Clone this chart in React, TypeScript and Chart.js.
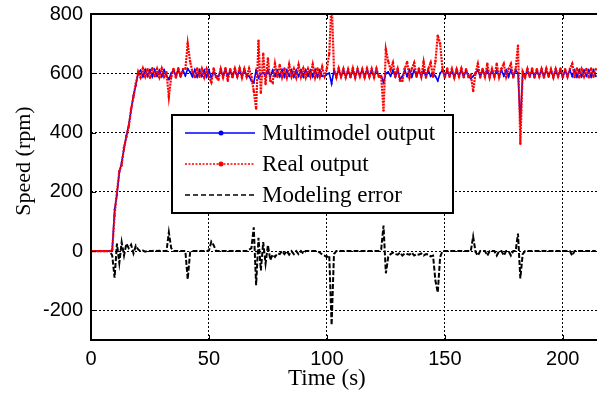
import React, { useEffect, useRef } from "react";
import { Chart, registerables } from "chart.js";

Chart.register(...registerables);

// Sampling step of the recorded signals (seconds)
const T_STEP = 1;

const X_TICKS = [0, 50, 100, 150, 200];
const Y_TICKS = [-200, 0, 200, 400, 600, 800];
const X_MIN = 0;
const X_MAX = 214.5;
const Y_MIN = -300;
const Y_MAX = 800;

const SERIES_NAMES = ["Multimodel output", "Real output", "Modeling error"];
const X_TITLE = "Time (s)";
const Y_TITLE = "Speed (rpm)";

// Real output (rpm), t = 0..214 s
const REAL_OUTPUT = [
  0, 0, 0, 0, 0, 0, 0, 0, 0, 5,
  120, 200, 270, 290, 350, 385, 420, 480, 520, 565,
  605, 586, 616, 589, 614, 585, 617, 590, 615, 587,
  616, 588, 604, 520, 588, 615, 586, 617, 589, 614,
  615, 700, 640, 605, 587, 616, 588, 615, 586, 614,
  588, 570, 616, 587, 578, 615, 586, 617, 575, 614,
  587, 616, 589, 617, 585, 615, 588, 616, 587, 540,
  481, 710, 534, 666, 564, 650, 575, 568, 632, 588,
  628, 587, 616, 586, 630, 589, 615, 586, 628, 588,
  616, 586, 615, 589, 630, 586, 616, 588, 622, 590,
  616, 665, 850, 614, 586, 617, 588, 615, 586, 614,
  587, 617, 585, 615, 589, 614, 586, 616, 588, 615,
  586, 616, 589, 590, 474, 680, 640, 612, 636, 588,
  615, 575, 575, 616, 638, 586, 615, 635, 588, 616,
  588, 638, 586, 615, 636, 588, 640, 727, 700, 614,
  586, 616, 588, 615, 585, 614, 589, 616, 587, 614,
  588, 595, 540, 600, 632, 586, 615, 588, 632, 586,
  615, 588, 632, 587, 616, 632, 588, 615, 632, 586,
  614, 693, 362, 605, 586, 615, 588, 616, 586, 614,
  589, 615, 586, 616, 588, 614, 586, 615, 589, 616,
  586, 614, 588, 615, 632, 587, 616, 586, 614, 589,
  615, 586, 616, 588, 614,
];

// Multimodel output (rpm), t = 0..214 s
const MODEL_OUTPUT = [
  0, 0, 0, 0, 0, 0, 0, 0, 0, 3,
  140, 190, 265, 300, 345, 390, 425, 475, 525, 560,
  600, 610, 589, 612, 590, 611, 588, 612, 591, 610,
  589, 611, 592, 580, 600, 611, 589, 612, 590, 610,
  592, 615, 604, 589, 612, 588, 611, 590, 610, 588,
  611, 585, 604, 590, 590, 611, 589, 612, 588, 610,
  590, 611, 588, 612, 590, 610, 592, 590, 575, 568,
  610, 585, 598, 602, 590, 611, 588, 610, 590, 609,
  589, 611, 588, 610, 591, 611, 588, 610, 590, 611,
  588, 611, 591, 610, 589, 612, 588, 610, 590, 590,
  598, 600, 565, 610, 589, 611, 588, 610, 590, 609,
  589, 611, 588, 610, 591, 610, 588, 612, 590, 609,
  589, 611, 591, 592, 569, 600, 604, 591, 610, 588,
  611, 580, 590, 610, 590, 611, 588, 610, 591, 610,
  589, 611, 588, 610, 590, 600, 590, 575, 600, 610,
  589, 611, 591, 610, 588, 610, 590, 611, 589, 610,
  591, 582, 590, 600, 611, 589, 610, 591, 610, 588,
  611, 590, 610, 589, 611, 591, 610, 588, 611, 590,
  610, 600, 430, 600, 589, 611, 590, 610, 588, 610,
  590, 611, 588, 610, 591, 610, 589, 611, 590, 610,
  588, 611, 591, 610, 590, 610, 588, 611, 589, 610,
  591, 610, 588, 611, 590,
];

// Modeling error (rpm), t = 0..214 s
const MODEL_ERROR = [
  0, 0, 0, 0, 0, 0, 0, 0, 0, -15,
  -90, 25, -40, 30, -15, 25, 10, 22, -8, 18,
  5, 0, 2, -2, 1, 0, 0, 2, 0, 1,
  0, 0, 0, 63, 10, 0, 0, 0, 0, 0,
  0, -95, -5, 0, 0, 0, 0, 0, 0, 0,
  2, 32, 20, 0, 0, 0, 0, 0, 0, 0,
  0, 0, 0, 0, 0, 0, 0, 5, 10, 80,
  -115, 45, -65, 30, -42, 20, -30, -12, -20, -8,
  -10, 0, -10, 0, -12, 0, -10, 0, -10, 0,
  -8, 0, 0, 0, 0, 0, 0, -5, -12, -15,
  -20, -15, -250, -10, 0, 0, 0, 0, 0, 0,
  0, 0, 0, 0, 0, 0, 0, 0, 0, 0,
  0, 0, 0, 5, 86, -75, -20, -10, -5, -10,
  -12, -5, -15, -8, -10, -12, -5, -15, -10, -12,
  -8, -15, -10, -12, -18, -15, -100, -140, -20, 0,
  0, 0, 0, 0, 0, 0, 0, 0, 0, 0,
  0, 0, 49, -3, -15, 0, 0, 0, -15, 0,
  0, 0, -15, 0, 0, -15, 0, 0, -15, 0,
  0, 59, -92, -10, 0, 0, 0, 0, 0, 0,
  0, 0, 0, 0, 0, 0, 0, 0, 0, 0,
  0, 0, 0, 0, -15, 0, 0, 0, 0, 0,
  0, 0, 0, 0, 0,
];

const COLORS = ["#0000ff", "#ff0000", "#000000"];
const TICK_FONT = "Liberation Sans, Arial, sans-serif";
const SERIF_FONT = "Liberation Serif, 'Times New Roman', serif";

const toPoints = (arr: number[]) => arr.map((y, i) => ({ x: i * T_STEP, y }));

const framePlugin = {
  id: "frameAndLegend",
  afterDraw(chart: any) {
    const { ctx, chartArea } = chart;
    const { left, right, top, bottom } = chartArea;
    const xs = chart.scales.x;
    const ys = chart.scales.y;
    ctx.save();
    // frame
    ctx.strokeStyle = "#000";
    ctx.lineWidth = 2;
    ctx.setLineDash([]);
    ctx.beginPath();
    ctx.moveTo(right + 2, top);
    ctx.lineTo(left, top);
    ctx.lineTo(left, bottom);
    ctx.lineTo(right + 2, bottom);
    ctx.stroke();
    // inward tick marks
    ctx.lineWidth = 1;
    ctx.beginPath();
    X_TICKS.forEach((v) => {
      const px = Math.round(xs.getPixelForValue(v)) + 0.5;
      ctx.moveTo(px, bottom);
      ctx.lineTo(px, bottom - 5);
      ctx.moveTo(px, top);
      ctx.lineTo(px, top + 5);
    });
    Y_TICKS.forEach((v) => {
      const py = Math.round(ys.getPixelForValue(v)) + 0.5;
      ctx.moveTo(left, py);
      ctx.lineTo(left + 5, py);
    });
    ctx.stroke();

    // axis titles
    ctx.fillStyle = "#000";
    ctx.font = `23px ${SERIF_FONT}`;
    ctx.textAlign = "center";
    ctx.textBaseline = "alphabetic";
    ctx.fillText(X_TITLE, xs.getPixelForValue(100), 385);
    ctx.save();
    ctx.translate(30, 161);
    ctx.rotate(-Math.PI / 2);
    ctx.font = `22px ${SERIF_FONT}`;
    ctx.fillText(Y_TITLE, 0, 0);
    ctx.restore();

    // legend
    const bx = 172, by = 115, bw = 281, bh = 98;
    ctx.fillStyle = "#fff";
    ctx.fillRect(bx, by, bw, bh);
    ctx.strokeStyle = "#000";
    ctx.lineWidth = 2;
    ctx.strokeRect(bx, by, bw, bh);
    const rows = [133, 164, 195];
    const dashes = [[], [2, 1.5], [5, 3]];
    const markers = [true, true, false];
    rows.forEach((ry, i) => {
      ctx.strokeStyle = COLORS[i];
      ctx.lineWidth = 1.5;
      ctx.setLineDash(dashes[i]);
      ctx.beginPath();
      ctx.moveTo(185, ry);
      ctx.lineTo(255, ry);
      ctx.stroke();
      ctx.setLineDash([]);
      if (markers[i]) {
        ctx.fillStyle = COLORS[i];
        ctx.beginPath();
        ctx.arc(221, ry, 2.5, 0, Math.PI * 2);
        ctx.fill();
      }
      ctx.fillStyle = "#000";
      ctx.font = `23px ${SERIF_FONT}`;
      ctx.textAlign = "left";
      ctx.textBaseline = "middle";
      ctx.fillText(SERIES_NAMES[i], 262, ry + 1);
    });
    ctx.restore();
  },
};

export default function App() {
  const canvasRef = useRef<HTMLCanvasElement | null>(null);

  useEffect(() => {
    const canvas = canvasRef.current;
    if (!canvas) return;
    const chart = new Chart(canvas, {
      type: "line",
      data: {
        datasets: [
          {
            label: SERIES_NAMES[1],
            data: toPoints(REAL_OUTPUT),
            borderColor: COLORS[1],
            backgroundColor: COLORS[1],
            borderWidth: 2.2,
            borderDash: [2, 1],
            pointRadius: 1.2,
            pointBorderWidth: 0,
            fill: false,
            tension: 0,
          },
          {
            label: SERIES_NAMES[0],
            data: toPoints(MODEL_OUTPUT),
            borderColor: COLORS[0],
            backgroundColor: COLORS[0],
            borderWidth: 1.6,
            pointRadius: 1,
            pointBorderWidth: 0,
            fill: false,
            tension: 0,
          },
          {
            label: SERIES_NAMES[2],
            data: toPoints(MODEL_ERROR),
            borderColor: COLORS[2],
            borderWidth: 2,
            borderDash: [5, 2],
            pointRadius: 0,
            fill: false,
            tension: 0,
          },
        ],
      },
      options: {
        responsive: false,
        devicePixelRatio: 1,
        animation: false,
        layout: { autoPadding: false, padding: { top: 14, right: 0, bottom: 0, left: 0 } },
        plugins: { legend: { display: false }, tooltip: { enabled: false } },
        scales: {
          x: {
            type: "linear",
            min: X_MIN,
            max: X_MAX,
            afterBuildTicks: (s: any) => {
              s.ticks = X_TICKS.map((v) => ({ value: v }));
            },
            afterFit: (s: any) => {
              s.height = 53;
              s.paddingLeft = 0;
              s.paddingRight = 0;
            },
            grid: { color: "#000", lineWidth: 1, drawTicks: false },
            border: { display: false, dash: [2, 2] },
            ticks: {
              color: "#000",
              padding: 7,
              maxRotation: 0,
              font: { family: TICK_FONT, size: 20 },
              callback: (v: any) => String(v),
            },
          },
          y: {
            type: "linear",
            min: Y_MIN,
            max: Y_MAX,
            afterBuildTicks: (s: any) => {
              s.ticks = Y_TICKS.map((v) => ({ value: v }));
            },
            afterFit: (s: any) => {
              s.width = 91;
              s.paddingTop = 0;
              s.paddingBottom = 0;
            },
            grid: { color: "#000", lineWidth: 1, drawTicks: false },
            border: { display: false, dash: [2, 2] },
            ticks: {
              color: "#000",
              padding: 8,
              font: { family: TICK_FONT, size: 20 },
              callback: (v: any) => String(v),
            },
          },
        },
      },
      plugins: [framePlugin],
    });
    return () => chart.destroy();
  }, []);

  return (
    <div style={{ position: "absolute", left: 0, top: 0, width: 597, height: 393, background: "#fff" }}>
      <canvas ref={canvasRef} width={597} height={393} style={{ display: "block" }} />
    </div>
  );
}
